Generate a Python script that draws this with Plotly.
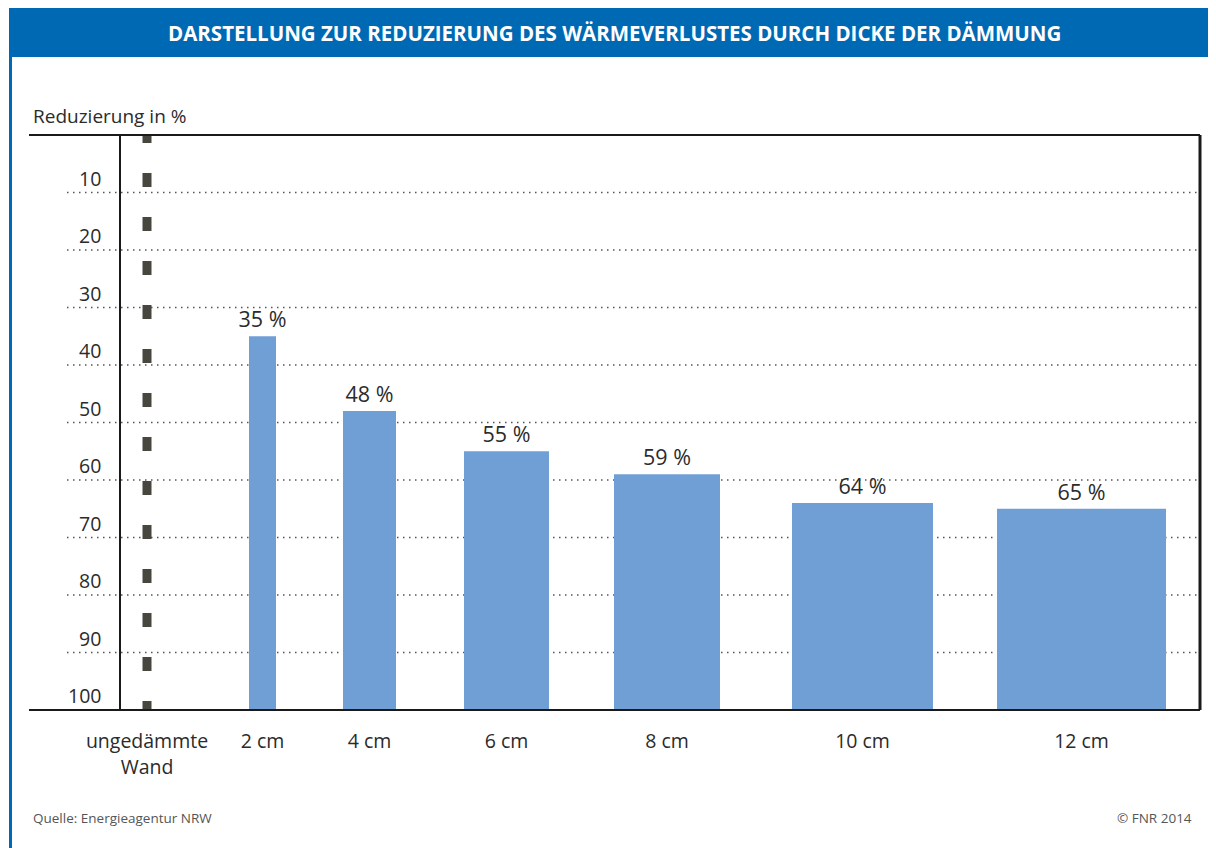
import plotly.graph_objects as go

# data
categories = ["ungedämmte<br>Wand", "2 cm", "4 cm", "6 cm", "8 cm", "10 cm", "12 cm"]
reduction = [35, 48, 55, 59, 64, 65]          # bars: 2 cm ... 12 cm
y_ticks = [10, 20, 30, 40, 50, 60, 70, 80, 90, 100]

# layout constants (x axis measured in pixels of the reference image)
W, H = 1216, 848
PX0, PX1 = 29, 1200      # plot area left / right in reference pixels
PY0, PY1 = 135, 710      # plot area top / bottom in reference pixels
OFF = 8                  # page body margin
L, T = PX0 - OFF, PY0 - OFF
R = W - L - (PX1 - PX0)
B = H - T - (PY1 - PY0)
x_centers = [147, 262.5, 369.5, 506.5, 667, 862.5, 1081.5]
bar_widths = [27, 53, 85, 106, 141, 169]
BAR_COLOR = "#6f9fd4"
BLUE = "#0069b4"
TEXT = "#2b2b2b"
FONT = "Open Sans"


def px_x(p):
    return (p - PX0) / (PX1 - PX0)


def px_y(p):
    return (PY1 - p) / (PY1 - PY0)


fig = go.Figure()

fig.add_trace(go.Bar(
    x=x_centers[1:],
    y=[v - 100 for v in reduction],
    base=100,
    width=bar_widths,
    marker=dict(color=BAR_COLOR, line=dict(width=0)),
    text=[f"{v} %" for v in reduction],
    textposition="outside",
    constraintext="none",
    textfont=dict(family=FONT, size=21.5, color=TEXT),
    cliponaxis=False,
    hoverinfo="skip",
))

# uninsulated wall: 0 % reduction, drawn as a dashed column
fig.add_trace(go.Scatter(
    x=[x_centers[0], x_centers[0]],
    y=[-6 / 5.75, 101],
    mode="lines",
    line=dict(color="#48473f", width=9, dash="14px,30px"),
    hoverinfo="skip",
))

shapes = []
# dotted gridlines
for t in y_ticks[:-1]:
    shapes.append(dict(type="line", xref="x", yref="y", x0=67, x1=PX1, y0=t, y1=t,
                       line=dict(color="#555555", width=1.3, dash="1.5px,4.5px"), layer="below"))
# frame
frame = dict(color="#1a1a1a", width=2)
shapes += [
    dict(type="line", xref="paper", yref="paper", x0=0, x1=1, y0=1, y1=1, line=frame),
    dict(type="line", xref="paper", yref="paper", x0=0, x1=1, y0=0, y1=0, line=frame),
    dict(type="line", xref="paper", yref="paper", x0=px_x(120), x1=px_x(120), y0=0, y1=1, line=frame),
    dict(type="line", xref="paper", yref="paper", x0=1, x1=1, y0=0, y1=1, line=dict(color="#1a1a1a", width=3)),
]
# header band and left border
shapes += [
    dict(type="rect", xref="paper", yref="paper", x0=px_x(9), x1=px_x(W + 20), y0=px_y(57), y1=px_y(8),
         fillcolor=BLUE, line=dict(width=0)),
    dict(type="rect", xref="paper", yref="paper", x0=px_x(9), x1=px_x(12), y0=px_y(H + 20), y1=px_y(57),
         fillcolor=BLUE, line=dict(width=0)),
]

annotations = [
    dict(text="DARSTELLUNG ZUR REDUZIERUNG DES WÄRMEVERLUSTES DURCH DICKE DER DÄMMUNG",
         xref="paper", yref="paper", x=px_x(614), y=px_y(33), showarrow=False,
         font=dict(family=FONT, size=20.5, color="white", weight="bold"), xanchor="center", yanchor="middle"),
    dict(text="Reduzierung in %", xref="paper", yref="paper", x=px_x(31), y=px_y(116),
         showarrow=False, xanchor="left", yanchor="middle", font=dict(family=FONT, size=19, color=TEXT)),
    dict(text="Quelle: Energieagentur NRW", xref="paper", yref="paper", x=px_x(31), y=px_y(818),
         showarrow=False, xanchor="left", yanchor="middle", font=dict(family=FONT, size=13.5, color="#555555")),
    dict(text="© FNR 2014", xref="paper", yref="paper", x=px_x(1194), y=px_y(818),
         showarrow=False, xanchor="right", yanchor="middle", font=dict(family=FONT, size=13.5, color="#555555")),
]
# y tick labels sit above their gridlines
for t in y_ticks:
    annotations.append(dict(text=str(t), xref="paper", yref="y", x=px_x(103), y=t, showarrow=False,
                            xanchor="right", yanchor="bottom", yshift=-1,
                            font=dict(family=FONT, size=19.5, color=TEXT)))

fig.update_layout(
    width=W, height=H,
    margin=dict(l=L, r=R, t=T, b=B),
    paper_bgcolor="white", plot_bgcolor="white",
    showlegend=False,
    shapes=shapes,
    annotations=annotations,
    xaxis=dict(range=[PX0, PX1], showgrid=False, zeroline=False, showline=False,
               tickvals=x_centers, ticktext=categories, ticks="outside", ticklen=14,
               tickcolor="rgba(0,0,0,0)", tickfont=dict(family=FONT, size=19.5, color=TEXT)),
    yaxis=dict(range=[100, 0], showgrid=False, zeroline=False, showline=False,
               showticklabels=False),
)

fig.write_html("out.html")
